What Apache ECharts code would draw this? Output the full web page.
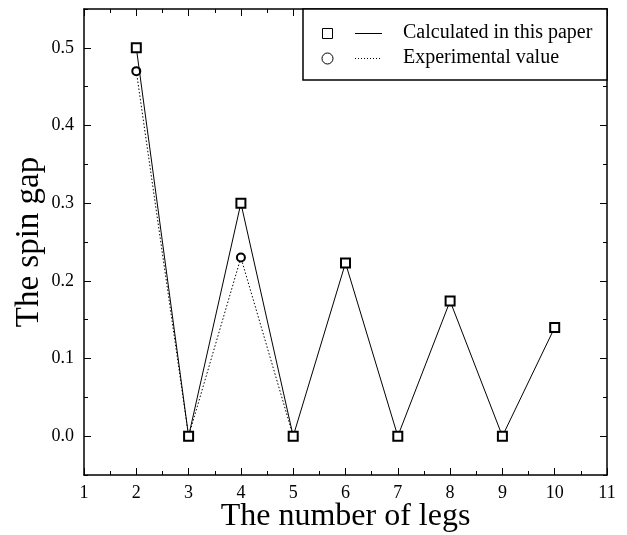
<!DOCTYPE html>
<html>
<head>
<meta charset="utf-8">
<script src="https://cdn.jsdelivr.net/npm/echarts@6/dist/echarts.min.js"></script>
<style>
  html, body { margin: 0; padding: 0; background: #fff; }
  #main { width: 627px; height: 535px; }
</style>
</head>
<body>
<div id="main"></div>
<script>
// data
const legs = [2, 3, 4, 5, 6, 7, 8, 9, 10];
const calculated = [0.5, 0, 0.3, 0, 0.223, 0, 0.174, 0, 0.14];
const expLegs = [2, 3, 4, 5];
const experimental = [0.47, 0, 0.23, 0];
const yMajor = [0, 0.1, 0.2, 0.3, 0.4, 0.5];
const yMinor = [-0.05, 0.05, 0.15, 0.25, 0.35, 0.45, 0.55];

const font = 'Liberation Serif';
const ink = '#000';

const chart = echarts.init(document.getElementById('main'), null, { renderer: 'canvas' });

function yAx(position, ticks, len, showLine, showLabel) {
    return {
        type: 'value', min: -0.05, max: 0.55, position: position,
        axisLine: { show: showLine, onZero: false, lineStyle: { color: ink, width: 1.5 } },
        axisTick: { show: true, inside: true, length: len, customValues: ticks, lineStyle: { color: ink, width: 1 } },
        axisLabel: showLabel ? {
            customValues: yMajor, margin: 10, color: ink, fontFamily: font, fontSize: 18,
            formatter: v => v.toFixed(1)
        } : { show: false },
        splitLine: { show: false }
    };
}

function xAx(position, showLabel) {
    return {
        type: 'value', min: 1, max: 11, interval: 1, position: position,
        axisLine: { onZero: false, lineStyle: { color: ink, width: 1.5 } },
        axisTick: { inside: true, length: 7, lineStyle: { color: ink } },
        minorTick: { show: true, splitNumber: 2, length: 4, lineStyle: { color: ink } },
        axisLabel: showLabel ? { margin: 9, color: ink, fontFamily: font, fontSize: 18 } : { show: false },
        splitLine: { show: false }, minorSplitLine: { show: false }
    };
}

const option = {
    animation: false,
    backgroundColor: '#fff',
    grid: { left: 84, right: 20, top: 9, bottom: 60, outerBoundsMode: 'none' },
    xAxis: [
        Object.assign(xAx('bottom', true), {
            name: 'The number of legs', nameLocation: 'middle', nameGap: 26, nameMoveOverlap: false,
            nameTextStyle: { color: ink, fontFamily: font, fontSize: 32 }
        }),
        xAx('top', false)
    ],
    yAxis: [
        Object.assign(yAx('left', yMajor, 7, true, true), {
            name: 'The spin gap', nameLocation: 'middle', nameGap: 38, nameMoveOverlap: false,
            nameTextStyle: { color: ink, fontFamily: font, fontSize: 33 }
        }),
        yAx('left', yMinor, 4, false, false),
        yAx('right', yMajor, 7, true, false),
        yAx('right', yMinor, 4, false, false)
    ],
    series: [{
        name: 'Experimental value', type: 'line',
        data: expLegs.map((x, i) => [x, experimental[i]]),
        symbol: 'emptyCircle', symbolSize: 8,
        itemStyle: { color: ink, borderWidth: 1 },
        lineStyle: { color: ink, width: 1, type: [1.5, 2] },
        z: 2
    }, {
        name: 'Calculated in this paper', type: 'line',
        data: legs.map((x, i) => [x, calculated[i]]),
        symbol: 'emptyRect', symbolSize: 9,
        itemStyle: { color: ink, borderWidth: 1.2 },
        lineStyle: { color: ink, width: 1 },
        z: 3
    }],
    graphic: [
        { type: 'rect', shape: { x: 303, y: 9, width: 304, height: 71 },
          style: { fill: '#fff', stroke: ink, lineWidth: 1.5 }, z: 10 },
        { type: 'rect', shape: { x: 322.5, y: 28.5, width: 10, height: 10 },
          style: { fill: 'none', stroke: ink, lineWidth: 1 }, z: 11 },
        { type: 'line', shape: { x1: 355, y1: 33.5, x2: 382, y2: 33.5 },
          style: { stroke: ink, lineWidth: 1 }, z: 11 },
        { type: 'text', x: 403, y: 33, z: 11,
          style: { text: 'Calculated in this paper', fill: ink, font: '20px "Liberation Serif"', textVerticalAlign: 'middle' } },
        { type: 'circle', shape: { cx: 327.5, cy: 58.5, r: 5.5 },
          style: { fill: 'none', stroke: ink, lineWidth: 1 }, z: 11 },
        { type: 'line', shape: { x1: 355, y1: 58.5, x2: 382, y2: 58.5 },
          style: { stroke: ink, lineWidth: 1, lineDash: [1, 2] }, z: 11 },
        { type: 'text', x: 403, y: 58, z: 11,
          style: { text: 'Experimental value', fill: ink, font: '20px "Liberation Serif"', textVerticalAlign: 'middle' } }
    ]
};

chart.setOption(option);
</script>
</body>
</html>
